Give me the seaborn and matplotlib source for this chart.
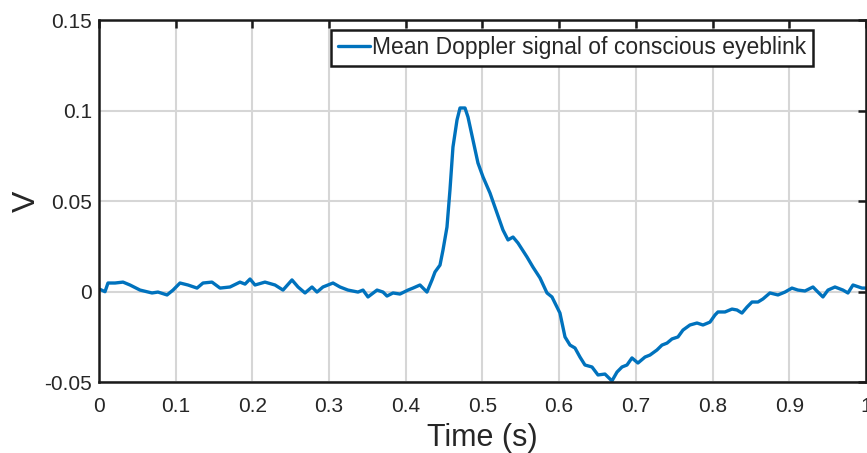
import matplotlib
matplotlib.use("Agg")
import matplotlib.pyplot as plt
import seaborn as sns
import pandas as pd

time_s = [0.0013, 0.0078, 0.0117, 0.0209, 0.0313, 0.0404, 0.0535, 0.0691, 0.0769, 0.0887,
          0.0965, 0.1056, 0.1160, 0.1278, 0.1356, 0.1473, 0.1578, 0.1708, 0.1838, 0.1904,
          0.1969, 0.2034, 0.2164, 0.2295, 0.2399, 0.2516, 0.2595, 0.2686, 0.2777, 0.2842,
          0.2920, 0.3051, 0.3142, 0.3246, 0.3377, 0.3442, 0.3507, 0.3625, 0.3703, 0.3755,
          0.3833, 0.3924, 0.4029, 0.4094, 0.4185, 0.4276, 0.4342, 0.4381, 0.4446, 0.4485,
          0.4537, 0.4576, 0.4615, 0.4668, 0.4707, 0.4772, 0.4811, 0.4876, 0.4941, 0.5007,
          0.5098, 0.5189, 0.5267, 0.5333, 0.5398, 0.5463, 0.5580, 0.5658, 0.5750, 0.5841,
          0.5906, 0.6010, 0.6076, 0.6141, 0.6206, 0.6271, 0.6336, 0.6428, 0.6506, 0.6597,
          0.6688, 0.6754, 0.6819, 0.6884, 0.6949, 0.7027, 0.7119, 0.7184, 0.7275, 0.7340,
          0.7406, 0.7471, 0.7549, 0.7614, 0.7705, 0.7797, 0.7875, 0.7966, 0.8031, 0.8070,
          0.8162, 0.8253, 0.8318, 0.8383, 0.8449, 0.8514, 0.8592, 0.8657, 0.8748, 0.8853,
          0.8944, 0.9035, 0.9113, 0.9205, 0.9309, 0.9374, 0.9439, 0.9505, 0.9596, 0.9700,
          0.9765, 0.9831, 0.9948, 1.0000]

signal_v = [0.0012, -0.0001, 0.0047, 0.0047, 0.0052, 0.0036, 0.0008, -0.0008, -0.0003, -0.0019,
            0.0008, 0.0047, 0.0036, 0.0019, 0.0047, 0.0052, 0.0019, 0.0025, 0.0052, 0.0041,
            0.0069, 0.0036, 0.0052, 0.0036, 0.0008, 0.0064, 0.0025, -0.0008, 0.0025, -0.0003,
            0.0025, 0.0047, 0.0025, 0.0008, -0.0003, 0.0008, -0.0030, 0.0008, -0.0003, -0.0025,
            -0.0008, -0.0014, 0.0008, 0.0019, 0.0036, -0.0003, 0.0064, 0.0108, 0.0146, 0.0229,
            0.0356, 0.0561, 0.0798, 0.0948, 0.1014, 0.1014, 0.0964, 0.0837, 0.0710, 0.0633,
            0.0544, 0.0434, 0.0340, 0.0285, 0.0301, 0.0268, 0.0191, 0.0135, 0.0075, -0.0008,
            -0.0030, -0.0119, -0.0251, -0.0296, -0.0312, -0.0362, -0.0406, -0.0417, -0.0461, -0.0456,
            -0.0494, -0.0445, -0.0417, -0.0406, -0.0367, -0.0395, -0.0362, -0.0351, -0.0323, -0.0296,
            -0.0285, -0.0262, -0.0251, -0.0213, -0.0185, -0.0174, -0.0185, -0.0169, -0.0130, -0.0113,
            -0.0113, -0.0097, -0.0102, -0.0119, -0.0086, -0.0058, -0.0058, -0.0041, -0.0008, -0.0019,
            -0.0003, 0.0019, 0.0008, 0.0003, 0.0025, -0.0003, -0.0030, 0.0008, 0.0025, 0.0008,
            -0.0008, 0.0036, 0.0019, 0.0019]

x_ticks = [0, 0.1, 0.2, 0.3, 0.4, 0.5, 0.6, 0.7, 0.8, 0.9, 1]
x_tick_labels = ["0", "0.1", "0.2", "0.3", "0.4", "0.5", "0.6", "0.7", "0.8", "0.9", "1"]
y_ticks = [-0.05, 0, 0.05, 0.1, 0.15]
y_tick_labels = ["-0.05", "0", "0.05", "0.1", "0.15"]
series_label = "Mean Doppler signal of conscious eyeblink"

sns.set_style("white")
plt.rcParams["font.family"] = ["Liberation Sans", "DejaVu Sans"]

df = pd.DataFrame({"t": time_s, "v": signal_v, "s": series_label})

fig = plt.figure(figsize=(8.67, 4.53), dpi=100)
ax = fig.add_axes([0.1142, 0.1567, 0.8846, 0.7991])

sns.lineplot(data=df, x="t", y="v", hue="s", palette=["#0072BD"], linewidth=2.4,
             ax=ax, sort=False, estimator=None)

ax.set_xlim(0, 1)
ax.set_ylim(-0.05, 0.15)
ax.set_xticks(x_ticks)
ax.set_xticklabels(x_tick_labels)
ax.set_yticks(y_ticks)
ax.set_yticklabels(y_tick_labels)

ax.grid(True, color="#d6d6d6", linewidth=1.5)
ax.set_axisbelow(True)
for sp in ax.spines.values():
    sp.set_visible(True)
    sp.set_color("#1a1a1a")
    sp.set_linewidth(1.8)
ax.tick_params(direction="in", length=6, width=1.8, top=True, right=True,
               labelsize=15, labelcolor="#262626", color="#1a1a1a")
ax.tick_params(axis="x", pad=11)
ax.tick_params(axis="y", pad=5)

ax.set_xlabel("Time (s)", fontsize=22, color="#262626", labelpad=5)
ax.set_ylabel("V", fontsize=23, color="#262626", labelpad=2)

leg = ax.legend(loc="upper right", bbox_to_anchor=(0.931, 0.973), fontsize=16.5,
                frameon=True, fancybox=False, framealpha=1, edgecolor="#1a1a1a",
                handlelength=1.4, handletextpad=0.12, borderpad=0.28, borderaxespad=0)
leg.get_frame().set_linewidth(1.8)
leg.set_title(None)

fig.savefig("out.png", dpi=100)
